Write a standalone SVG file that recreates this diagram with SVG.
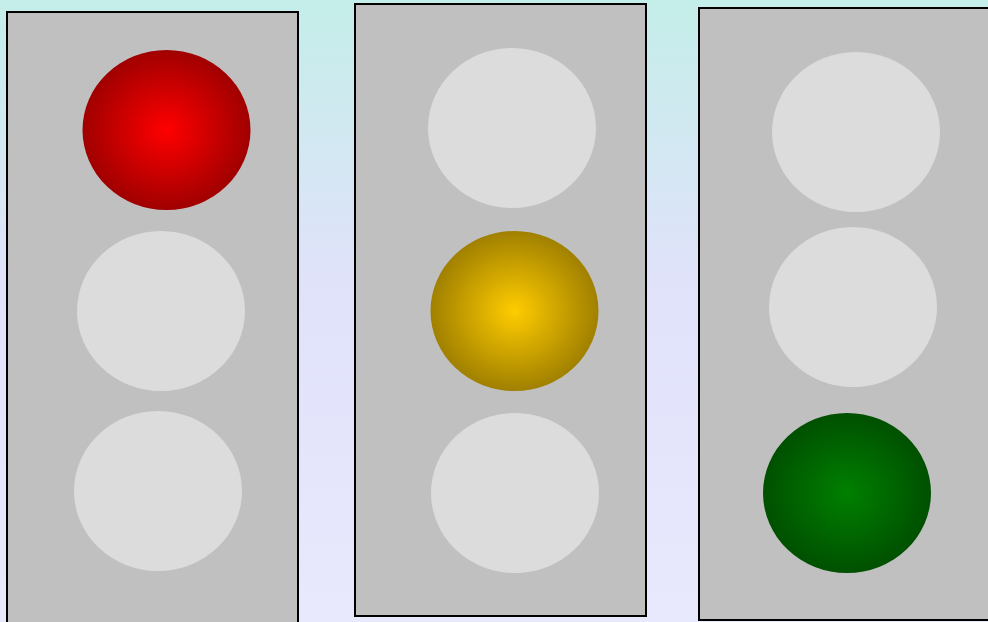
<svg xmlns="http://www.w3.org/2000/svg" width="988" height="622" viewBox="0 0 988 622">
<defs>
<linearGradient id="bg" x1="0" y1="0" x2="0" y2="1">
<stop offset="0" stop-color="#c4eee9"/>
<stop offset="0.45" stop-color="#e0e2fa"/>
<stop offset="1" stop-color="#e9e9fd"/>
</linearGradient>
<radialGradient id="red"><stop offset="0" stop-color="#ff0000"/><stop offset="1" stop-color="#a00000"/></radialGradient>
<radialGradient id="yellow"><stop offset="0" stop-color="#ffcc00"/><stop offset="1" stop-color="#a08000"/></radialGradient>
<radialGradient id="green"><stop offset="0" stop-color="#008000"/><stop offset="1" stop-color="#005000"/></radialGradient>
</defs>
<style>
.box{fill:#c0c0c0;stroke:#000;stroke-width:2}
.off{fill:#dcdcdc}
</style>
<rect width="988" height="622" fill="url(#bg)"/>
<g id="light1">
<rect class="box" x="7" y="12" width="291" height="614"/>
<ellipse cx="166.5" cy="130" rx="84" ry="80" fill="url(#red)"/>
<ellipse class="off" cx="161" cy="311" rx="84" ry="80"/>
<ellipse class="off" cx="158" cy="491" rx="84" ry="80"/>
</g>
<g id="light2">
<rect class="box" x="355" y="4" width="291" height="612"/>
<ellipse class="off" cx="512" cy="128" rx="84" ry="80"/>
<ellipse cx="514.5" cy="311" rx="84" ry="80" fill="url(#yellow)"/>
<ellipse class="off" cx="515" cy="493" rx="84" ry="80"/>
</g>
<g id="light3">
<rect class="box" x="699" y="8" width="291" height="612"/>
<ellipse class="off" cx="856" cy="132" rx="84" ry="80"/>
<ellipse class="off" cx="853" cy="307" rx="84" ry="80"/>
<ellipse cx="847" cy="493" rx="84" ry="80" fill="url(#green)"/>
</g>
<g id="connectors"/>
</svg>
